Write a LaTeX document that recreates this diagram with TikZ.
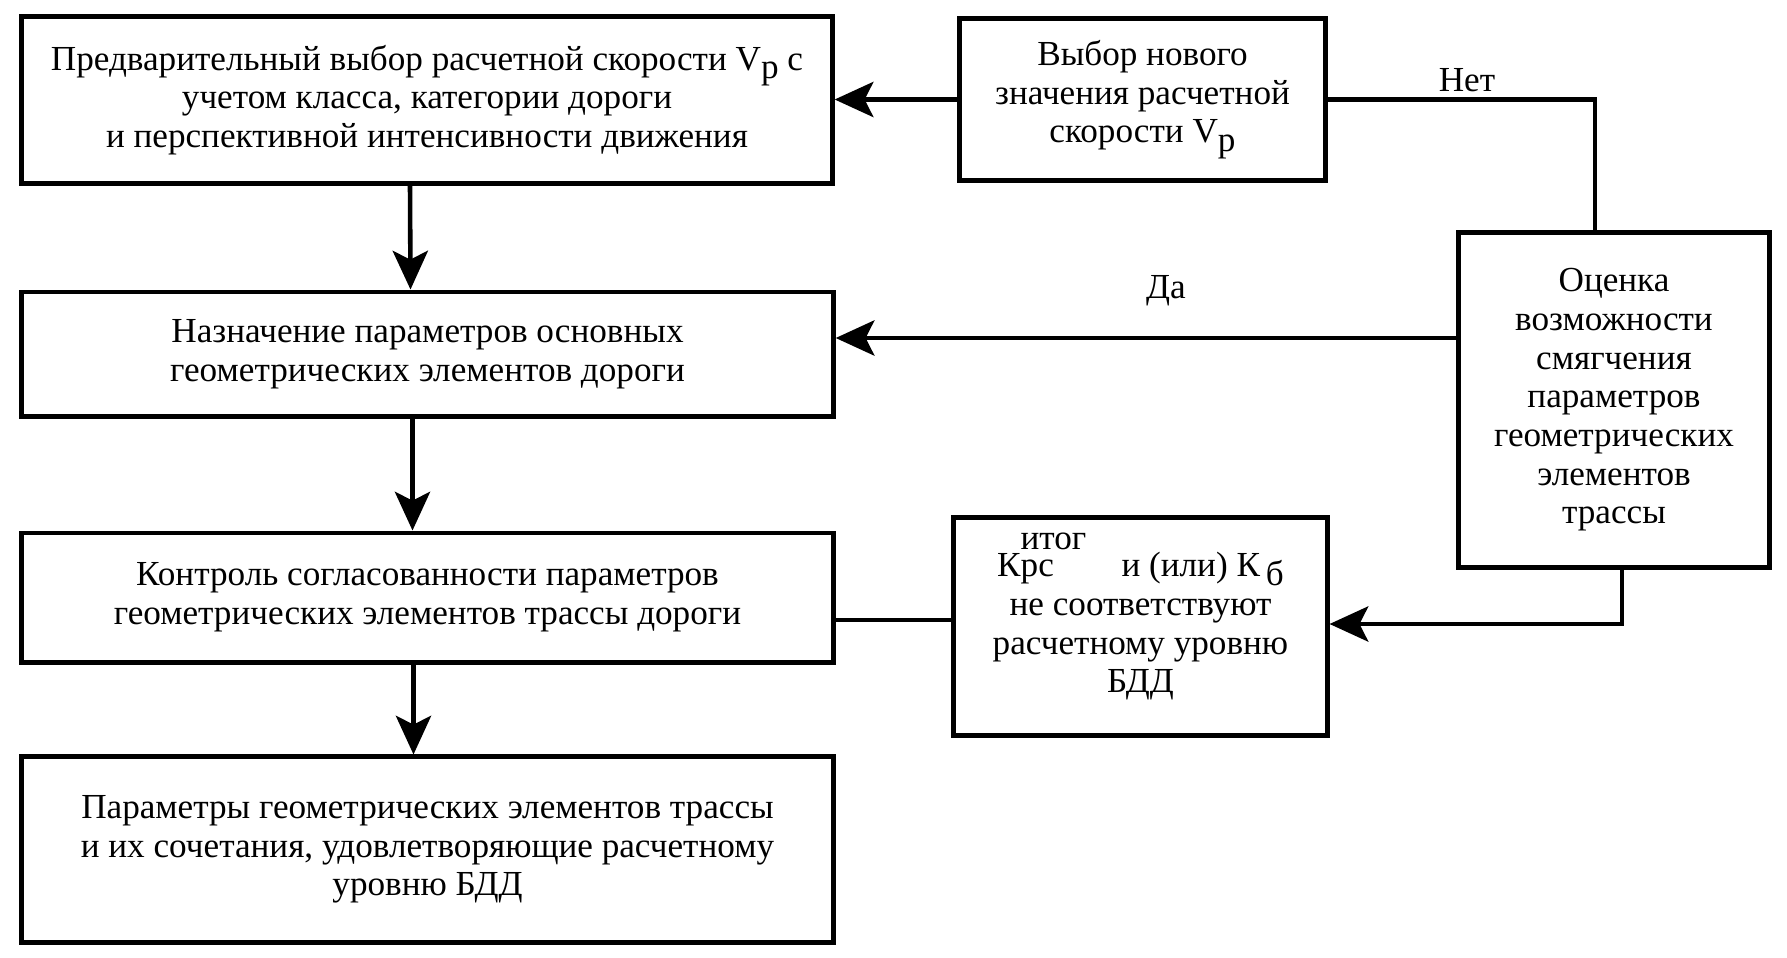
\documentclass[tikz,border=0pt]{standalone}
\usepackage{fontspec}
\setmainfont{Liberation Serif}
\usetikzlibrary{arrows.meta,calc}
\begin{document}
\begin{tikzpicture}[x=0.01cm,y=-0.01cm,
  box/.style={draw, line width=1.4pt, inner sep=0pt, align=center,
    font=\fontsize{10pt}{11pt}\selectfont},
  conn/.style={line width=1.3pt},
  arr/.style={conn, -{Stealth[length=11pt,width=10pt,inset=2.5pt]}},
  lbl/.style={font=\fontsize{10pt}{11pt}\selectfont, inner sep=0pt}]
\useasboundingbox (0,0) rectangle (1787,957);

\node[box, minimum width=8.10cm, minimum height=1.66cm] (b1) at (427,100)
  {Предварительный выбор расчетной скорости V\raisebox{-0.5ex}{p} с\\
   учетом класса, категории дороги\\
   и перспективной интенсивности движения};
\node[box, minimum width=3.65cm, minimum height=1.61cm] (b2) at (1142.5,99.5)
  {Выбор нового\\значения расчетной\\скорости V\raisebox{-0.5ex}{p}};
\node[box, minimum width=8.11cm, minimum height=1.24cm] (b3) at (427.5,354)
  {Назначение параметров основных\\геометрических элементов дороги};
\node[box, minimum width=3.10cm, minimum height=3.34cm] (b4) at (1614,400)
  {Оценка\\возможности\\смягчения\\параметров\\геометрических\\элементов\\трассы};
\node[box, minimum width=8.11cm, minimum height=1.29cm] (b5) at (427.5,597.5)
  {Контроль согласованности параметров\\геометрических элементов трассы дороги};
\node[box, minimum width=3.73cm, minimum height=2.17cm] (b6) at (1140.5,626.5)
  {К\makebox[0pt][l]{рс}\smash{\raisebox{0.78em}{итог}}\hspace{1em}и (или) К\,\raisebox{-0.5ex}{б}\\
   не соответствуют\\расчетному уровню\\БДД};
\node[box, minimum width=8.11cm, minimum height=1.85cm] (b7) at (427.5,849.5)
  {Параметры геометрических элементов трассы\\
   и их сочетания, удовлетворяющие расчетному\\уровню БДД};

\node[lbl] (net) at (1467,80) {Нет};
\node[lbl] (da) at (1166,291) {Да};

\draw[arr] (b2.west) -- (b1.east |- b2.west);
\draw[conn] (b2.east) -| ($(b4.north)+(-19,0)$);
\draw[arr] ($(b4.west)+(0,-62)$) -- ($(b3.east)+(0,-16)$);
\draw[arr] ($(b4.south)+(8,0)$) |- ($(b6.east)+(0,-2.5)$);
\draw[conn] ($(b6.west)+(0,-6.5)$) -- ($(b5.east)+(0,22.5)$);
\draw[arr] ($(b1.south)+(-17,0)$) -- ($(b3.north)+(-17,0)$);
\draw[arr] ($(b3.south)+(-15,0)$) -- ($(b5.north)+(-15,0)$);
\draw[arr] ($(b5.south)+(-14,0)$) -- ($(b7.north)+(-14,0)$);
\end{tikzpicture}
\end{document}
